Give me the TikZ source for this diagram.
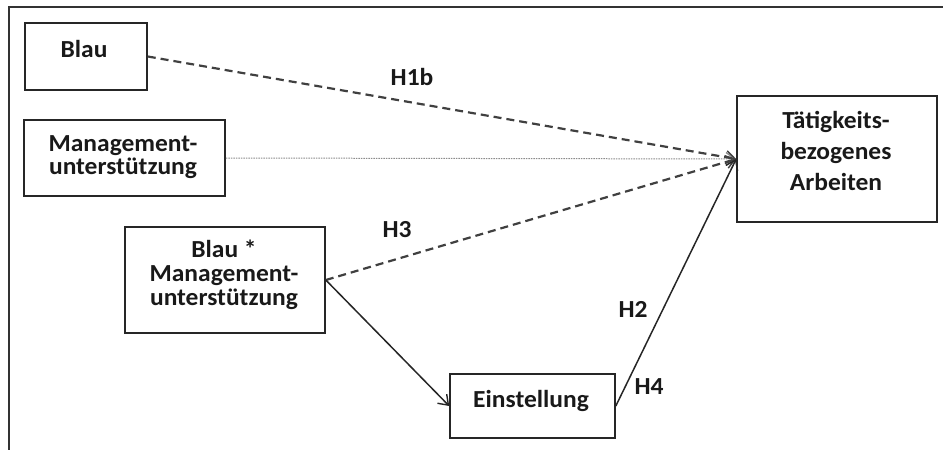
\documentclass[tikz,border=0pt]{standalone}
\usepackage{fontspec}
\setmainfont{Carlito}[FakeStretch=1.04]
\usetikzlibrary{arrows.meta}
\tikzset{
  box/.style={draw=black!85, line width=1.6pt, inner sep=0pt},
  txt/.style={inner sep=0pt, align=center, font=\fontsize{24.5}{24}\selectfont\bfseries, text=black!90},
  lbl/.style={inner sep=0pt, font=\fontsize{24.5}{24}\selectfont\bfseries, text=black!90},
  arrtip/.style={-{Straight Barb[length=9pt,width=13pt,line width=1.4pt]}},
  dasharr/.style={arrtip, draw=black!75, line width=2.2pt, dash pattern=on 8pt off 5pt},
  solidarr/.style={arrtip, draw=black!85, line width=1.5pt},
  dotarr/.style={arrtip, draw=black!45, line width=1pt, dash pattern=on 1.5pt off 1pt},
}
\begin{document}
\begin{tikzpicture}[x=1pt,y=-1pt]
\useasboundingbox (0,0) rectangle (943,450);
% frame
\draw[black!80, line width=2pt] (9,450) -- (9,7) -- (943,7);
% boxes
\node[box, minimum width=122pt, minimum height=67pt] (blau) at (86,56.5) {};
\node[box, minimum width=201pt, minimum height=76pt] (mgmt) at (124.5,158) {};
\node[box, minimum width=200pt, minimum height=106pt] (inter) at (225,280) {};
\node[box, minimum width=165pt, minimum height=64pt] (einst) at (532.5,406) {};
\node[box, minimum width=200pt, minimum height=126pt] (taet) at (837,159) {};
% texts
\node[txt, anchor=base] (tblau) at (84,57) {Blau};
\node[txt, font=\fontsize{24.5}{23.5}\selectfont\bfseries] (tmgmt) at (123,157) {Management-\\unterstützung};
\node[txt, font=\fontsize{24.5}{24}\selectfont\bfseries] (tinter) at (224,275) {Blau *\\Management-\\unterstützung};
\node[txt, anchor=base] (teinst) at (531,407) {Einstellung};
\node[txt, font=\fontsize{24.5}{31}\selectfont\bfseries] (ttaet) at (836,151) {Tätigkeits-\\bezogenes\\Arbeiten};
% connectors
\draw[dotarr] (mgmt.east) -- (taet.west);
\draw[dasharr] (blau.east) -- (taet.west);
\draw[dasharr] (inter.east) -- (taet.west);
\draw[solidarr] (inter.east) -- (einst.west);
\draw[solidarr] (einst.east) -- (taet.west);
% labels
\node[lbl, anchor=base] (h1b) at (412,85) {H1b};
\node[lbl, anchor=base] (h3) at (397,237) {H3};
\node[lbl, anchor=base] (h2) at (633,317) {H2};
\node[lbl, anchor=base] (h4) at (649,394) {H4};
\end{tikzpicture}
\end{document}
